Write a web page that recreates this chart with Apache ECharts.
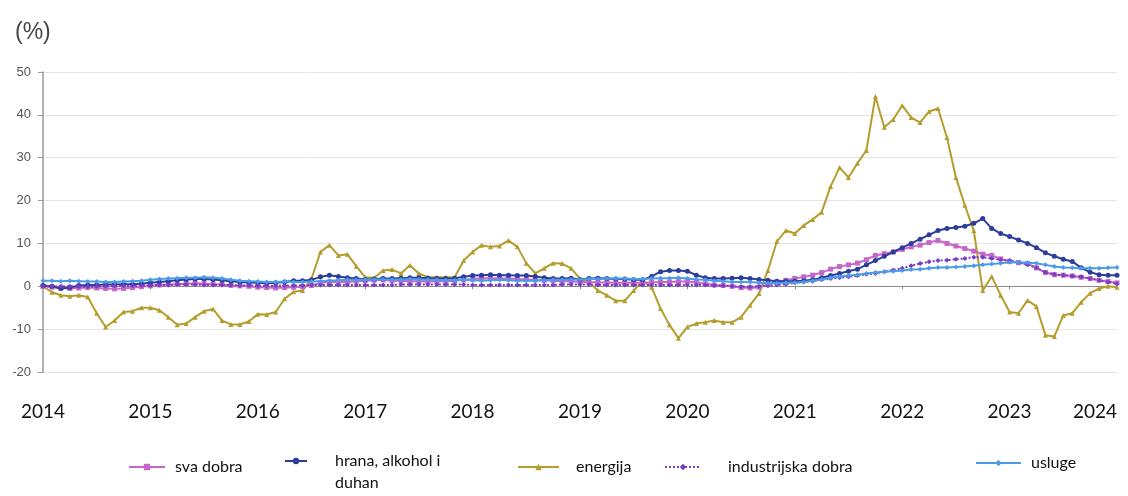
<!DOCTYPE html>
<html>
<head>
<meta charset="utf-8">
<script src="https://cdn.jsdelivr.net/npm/echarts@6/dist/echarts.min.js"></script>
<style>
html,body{margin:0;padding:0;background:#fff;}
#c{width:1128px;height:496px;}
</style>
</head>
<body>
<div id="c"></div>
<script>
// Monthly categories Jan 2014 - Jan 2024
var categories = [];
for (var y = 2014; y <= 2024; y++) {
  for (var m = 1; m <= 12; m++) {
    if (y === 2024 && m > 1) break;
    categories.push(y + '-' + (m < 10 ? '0' + m : m));
  }
}
var seriesNames = ['sva dobra', 'hrana, alkohol i duhan', 'energija', 'industrijska dobra', 'usluge'];

var svaDobra = [
  0, -0.2, -0.4, -0.5, -0.4, -0.3, -0.4, -0.5, -0.6, -0.5, -0.3, -0.1,
  0.1, 0.3, 0.4, 0.5, 0.6, 0.7, 0.6, 0.5, 0.4, 0.2, 0.1, 0.0,
  -0.2, -0.3, -0.4, -0.3, -0.2, -0.1, 0.2, 0.8, 1.0, 1.0, 1.0, 1.2,
  1.3, 1.4, 1.5, 1.3, 1.3, 1.2, 1.2, 1.1, 1.2, 1.2, 1.3, 1.5,
  1.7, 1.9, 1.9, 1.8, 1.8, 1.7, 1.6, 1.5, 1.4, 1.3, 1.2, 1.2,
  1.0, 1.0, 0.9, 0.9, 0.8, 0.8, 0.8, 0.8, 0.9, 1.0, 1.0, 1.1,
  1.1, 0.9, 0.6, 0.3, 0.2, 0.0, -0.3, -0.4, -0.2, 0.4, 1.0, 1.4,
  1.8, 2.2, 2.6, 3.2, 4.0, 4.6, 5.0, 5.4, 6.2, 7.2, 7.6, 8.0,
  8.6, 9.2, 9.6, 10.2, 10.7, 10.0, 9.4, 8.8, 8.2, 7.5, 7.2, 6.4,
  5.8, 5.5, 5.3, 4.3, 3.2, 2.7, 2.6, 2.4, 2.1, 1.8, 1.4, 1.1,
  0.8
];
var hrana = [
  0.2, 0.0, -0.5, -0.3, 0.2, 0.3, 0.3, 0.4, 0.4, 0.5, 0.5, 0.6,
  0.8, 1.0, 1.2, 1.4, 1.6, 1.7, 1.7, 1.6, 1.4, 1.2, 1.0, 0.9,
  0.8, 0.7, 0.8, 1.0, 1.3, 1.3, 1.5, 2.2, 2.6, 2.3, 2.0, 1.8,
  1.6, 1.7, 1.8, 1.8, 1.9, 2.0, 2.0, 1.9, 1.8, 1.8, 1.9, 2.2,
  2.5, 2.6, 2.7, 2.6, 2.6, 2.5, 2.5, 2.3, 2.0, 1.8, 1.8, 1.9,
  1.6, 1.8, 1.9, 1.8, 1.7, 1.7, 1.5, 1.5, 2.3, 3.4, 3.7, 3.7,
  3.5, 2.6, 2.0, 1.8, 1.8, 1.9, 2.0, 1.8, 1.6, 1.4, 1.2, 1.2,
  1.2, 1.3, 1.5, 2.0, 2.5, 3.0, 3.5, 4.0, 5.0, 6.0, 7.0, 8.0,
  9.0, 10.0, 11.0, 12.0, 13.0, 13.5, 13.7, 14.0, 14.7, 15.8, 13.5, 12.3,
  11.6, 10.8, 10.0, 9.0, 7.8, 7.0, 6.3, 5.8, 4.3, 3.3, 2.7, 2.6,
  2.6
];
var energija = [
  0, -1.4, -2.1, -2.3, -2.1, -2.5, -6.3, -9.5, -8, -6, -5.8, -5,
  -5, -5.6, -7.2, -9, -8.7, -7.2, -5.8, -5.3, -8, -8.9, -8.9, -8.2,
  -6.5, -6.6, -6, -2.9, -1.3, -1, 1.8, 8, 9.6, 7.2, 7.5, 4.7,
  2.1, 2, 3.7, 3.9, 3, 4.9, 3, 2.1, 2.1, 2.1, 2.1, 6,
  8, 9.6, 9.2, 9.4, 10.7, 9.2, 5.4, 3, 4.2, 5.4, 5.3, 4.2,
  1.8, 1, -1, -2.1, -3.4, -3.4, -1, 1.4, -0.2, -5.2, -9, -12.1,
  -9.5, -8.7, -8.4, -8, -8.4, -8.4, -7.2, -4.4, -1.7, 3.7, 10.5, 13,
  12.3, 14.2, 15.6, 17.3, 23.3, 27.7, 25.4, 28.7, 31.7, 44.3, 37.1, 38.9,
  42.2, 39.4, 38.2, 40.8, 41.5, 34.7, 25.4, 18.9, 13, -1, 2.3, -2.1,
  -6, -6.3, -3.3, -4.7, -11.4, -11.7, -6.8, -6.3, -3.7, -1.6, -0.5, 0,
  -0.2
];
var industrijska = [
  0.1, 0.0, 0.0, 0.0, -0.1, -0.1, 0.0, 0.0, 0.1, 0.1, 0.1, 0.2,
  0.2, 0.3, 0.3, 0.4, 0.4, 0.4, 0.3, 0.3, 0.3, 0.3, 0.2, 0.2,
  0.1, 0.1, 0.1, 0.2, 0.2, 0.2, 0.3, 0.3, 0.3, 0.3, 0.3, 0.3,
  0.3, 0.3, 0.3, 0.3, 0.4, 0.4, 0.4, 0.4, 0.4, 0.4, 0.4, 0.4,
  0.3, 0.3, 0.3, 0.3, 0.3, 0.3, 0.3, 0.3, 0.3, 0.3, 0.4, 0.4,
  0.4, 0.4, 0.3, 0.3, 0.3, 0.3, 0.3, 0.3, 0.3, 0.3, 0.3, 0.3,
  0.3, 0.3, 0.3, 0.2, 0.1, 0.0, -0.1, -0.1, 0.0, 0.1, 0.3, 0.5,
  0.8, 1.0, 1.2, 1.5, 1.8, 2.0, 2.2, 2.5, 2.8, 3.0, 3.4, 3.8,
  4.2, 4.8, 5.3, 5.7, 6.0, 6.1, 6.3, 6.5, 6.8, 6.8, 6.5, 6.2,
  6.0, 5.6, 5.0, 4.3, 3.3, 2.8, 2.6, 2.4, 2.2, 1.8, 1.4, 1.0,
  0.6
];
var usluge = [
  1.3, 1.3, 1.2, 1.3, 1.2, 1.1, 1.1, 1.0, 1.0, 1.1, 1.2, 1.3,
  1.5, 1.7, 1.8, 1.9, 2.0, 2.0, 2.1, 2.0, 1.8, 1.5, 1.3, 1.2,
  1.1, 1.0, 1.0, 1.1, 1.0, 1.0, 1.1, 1.2, 1.3, 1.4, 1.5, 1.5,
  1.5, 1.6, 1.6, 1.5, 1.6, 1.7, 1.6, 1.5, 1.5, 1.4, 1.4, 1.5,
  1.4, 1.3, 1.4, 1.5, 1.4, 1.3, 1.3, 1.3, 1.4, 1.5, 1.5, 1.6,
  1.6, 1.7, 1.7, 1.8, 1.8, 1.8, 1.7, 1.7, 1.8, 1.9, 1.9, 2.0,
  1.8, 1.6, 1.5, 1.3, 1.2, 1.0, 1.0, 1.0, 0.8, 0.7, 0.7, 0.8,
  0.8, 1.0, 1.3, 1.6, 2.0, 2.3, 2.5, 2.7, 3.0, 3.2, 3.4, 3.5,
  3.7, 3.9, 4.0, 4.2, 4.4, 4.4, 4.5, 4.6, 4.8, 5.0, 5.2, 5.4,
  5.6, 5.6, 5.5, 5.4, 5.0, 4.6, 4.4, 4.3, 4.2, 4.2, 4.2, 4.3,
  4.4
];

var colors = ['#c766c9', '#2c3d9c', '#b59d2c', '#7b3cc4', '#4b9be6'];
var symbols = ['rect', 'circle', 'triangle', 'diamond', 'diamond'];
var dataSets = [svaDobra, hrana, energija, industrijska, usluge];

var chart = echarts.init(document.getElementById('c'), null, {renderer: 'canvas'});

var yearTick = function (idx) { return idx % 12 === 0; };

var series = seriesNames.map(function (n, k) {
  return {
    name: n,
    type: 'line',
    xAxisIndex: 0,
    data: dataSets[k],
    symbol: symbols[k],
    symbolSize: 5,
    showAllSymbol: true,
    color: colors[k],
    lineStyle: {width: 2, color: colors[k], type: k === 3 ? 'dotted' : 'solid'},
    itemStyle: {color: colors[k]},
    z: [3, 4, 2, 5, 6][k],
    animation: false
  };
});

var legendFont = 'Lato, "Open Sans", sans-serif';

function mkLegend(name, left, top, itemWidth, padLeft, fmt) {
  return {
    data: [name],
    left: left,
    top: top,
    itemWidth: itemWidth,
    itemHeight: 8,
    formatter: fmt || '{name}',
    textStyle: {
      fontFamily: legendFont,
      fontSize: 16,
      color: '#111',
      padding: [0, 0, 0, padLeft]
    }
  };
}

var option = {
  backgroundColor: '#fff',
  animation: false,
  title: [
    {
      text: '(%)',
      left: 10,
      top: 16,
      textStyle: {fontFamily: 'Liberation Sans, Arial, sans-serif', fontSize: 23, fontWeight: 'normal', color: '#444'}
    },
    {
      text: 'duhan',
      left: 335,
      top: 475,
      padding: 0,
      textStyle: {fontFamily: legendFont, fontSize: 16, fontWeight: 'normal', color: '#111'}
    }
  ],
  legend: [
    mkLegend(seriesNames[0], 123, 454, 36, 5),
    mkLegend(seriesNames[1], 279, 448, 22, 23, function () { return 'hrana, alkohol i'; }),
    mkLegend(seriesNames[2], 512, 454, 41, 12),
    mkLegend(seriesNames[3], 659, 454, 36, 22),
    mkLegend(seriesNames[4], 970, 450, 45, 5)
  ],
  grid: {left: 43, right: 11, top: 72, bottom: 124, containLabel: false, outerBoundsMode: 'none'},
  xAxis: [
    {
      type: 'category',
      data: categories,
      boundaryGap: false,
      axisLine: {onZero: true, lineStyle: {color: '#8a8a8a', width: 1}},
      axisTick: {show: true, interval: yearTick, length: 3, lineStyle: {color: '#8a8a8a'}},
      axisLabel: {show: false},
      splitLine: {show: false}
    },
    {
      type: 'category',
      data: categories,
      boundaryGap: false,
      position: 'bottom',
      axisLine: {show: false, onZero: false},
      axisTick: {show: false},
      axisLabel: {
        show: true,
        interval: yearTick,
        margin: 30,
        hideOverlap: false,
        alignMaxLabel: 'right',
        formatter: function (v) { return v.slice(0, 4); },
        fontFamily: legendFont,
        fontSize: 19,
        color: '#111'
      },
      splitLine: {show: false}
    }
  ],
  yAxis: {
    type: 'value',
    min: -20,
    max: 50,
    interval: 10,
    axisLine: {show: true, lineStyle: {color: '#999', width: 1.5}},
    axisTick: {show: true, length: 5, lineStyle: {color: '#999'}},
    axisLabel: {margin: 12, fontFamily: 'Liberation Sans, Arial, sans-serif', fontSize: 13, color: '#555'},
    splitLine: {lineStyle: {color: '#e4e4e4', width: 1}}
  },
  series: series
};
chart.setOption(option);
</script>
</body>
</html>
